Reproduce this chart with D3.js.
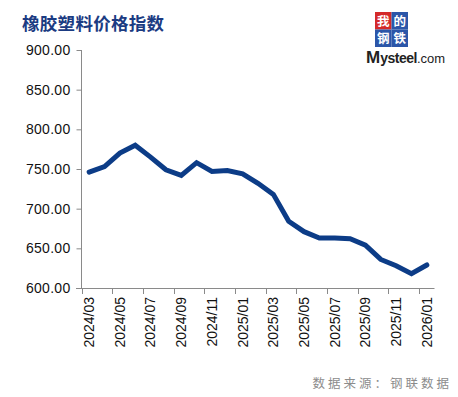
<!DOCTYPE html>
<html><head><meta charset="utf-8">
<script src="https://cdn.jsdelivr.net/npm/d3@7/dist/d3.min.js"></script>
<style>
html,body{margin:0;padding:0;background:#fff;}
svg{display:block;}
</style></head>
<body>
<svg id="c" width="458" height="397"></svg>
<script>
const categories = ["2024/03","2024/04","2024/05","2024/06","2024/07","2024/08","2024/09","2024/10","2024/11","2024/12",
"2025/01","2025/02","2025/03","2025/04","2025/05","2025/06","2025/07","2025/08","2025/09","2025/10","2025/11","2025/12","2026/01"];
const values = [746,753,770,780,765,749,742,758,747,748,744,732,718,684,671,663,663,662,654,636,628,618,629];
const yTicks = [600,650,700,750,800,850,900];
const title = "橡胶塑料价格指数";
const source = "数据来源：钢联数据";

const svg = d3.select("#c");
const x = d3.scaleBand().domain(categories).range([81.5, 434.5]);
const y = d3.scaleLinear().domain([600, 900]).range([288, 50]);
const axisColor = "#8a8a8a";

// title
svg.append("text").attr("x", 22).attr("y", 30)
  .attr("font-family", "'Noto Sans CJK SC'").attr("font-weight", 700)
  .attr("font-size", 17.5).attr("letter-spacing", 0.3).attr("fill", "#1b3b82").text(title);

// y axis
const ya = svg.append("g").attr("transform", "translate(81.5,0)")
  .call(d3.axisLeft(y).tickValues(yTicks).tickSize(5).tickPadding(6).tickFormat(d3.format(".2f")));
ya.selectAll("path,line").attr("stroke", axisColor);
ya.select(".domain").attr("d", "M0," + y(900) + "V" + y(600));
ya.selectAll("text").attr("font-family", "'Liberation Sans', Arial, sans-serif")
  .attr("font-size", 14).attr("letter-spacing", 0.3).attr("fill", "#111");

// x axis
const xg = svg.append("g");
xg.append("line").attr("x1", 76).attr("x2", x.range()[1]).attr("y1", y(600) + 0.5).attr("y2", y(600) + 0.5)
  .attr("stroke", axisColor);
const labeled = categories.filter((d, i) => i % 2 === 0);
xg.selectAll("line.tk").data(labeled).join("line").attr("class", "tk")
  .attr("x1", d => Math.round(x(d)) + 0.5).attr("x2", d => Math.round(x(d)) + 0.5)
  .attr("y1", y(600)).attr("y2", y(600) + 6).attr("stroke", axisColor);
xg.selectAll("text").data(labeled).join("text")
  .attr("transform", d => `translate(${x(d) + x.bandwidth() / 2},297) rotate(-90)`)
  .attr("text-anchor", "end").attr("dy", "0.35em")
  .attr("font-family", "'Liberation Sans', Arial, sans-serif").attr("font-size", 14).attr("fill", "#111")
  .text(d => d);

// line
const line = d3.line().x((d, i) => x(categories[i]) + x.bandwidth() / 2).y(d => y(d));
svg.append("path").datum(values).attr("d", line)
  .attr("fill", "none").attr("stroke", "#0c3c87").attr("stroke-width", 5)
  .attr("stroke-linejoin", "miter").attr("stroke-linecap", "round");

// logo
const logo = svg.append("g");
const sq = [["我", 375, 12, "#d42a2a"], ["的", 391.5, 12, "#2c56a8"], ["钢", 375, 29.5, "#2c56a8"], ["铁", 391.5, 29.5, "#2c56a8"]];
sq.forEach(([t, lx, ly, c]) => {
  logo.append("rect").attr("x", lx).attr("y", ly).attr("width", 16.5).attr("height", 17.5).attr("fill", c);
  logo.append("text").attr("x", lx + 8.25).attr("y", ly + 13.5).attr("text-anchor", "middle")
    .attr("font-family", "'Noto Sans CJK SC'").attr("font-weight", 700).attr("font-size", 12.5).attr("fill", "#fff").text(t);
});
const mt = logo.append("text").attr("x", 366).attr("y", 63)
  .attr("font-family", "'Liberation Sans', Arial, sans-serif").attr("fill", "#222");
mt.append("tspan").attr("font-size", 17).attr("font-weight", 700).text("M");
mt.append("tspan").attr("font-size", 14).attr("font-weight", 700).attr("letter-spacing", -0.5).text("ysteel");
mt.append("tspan").attr("font-size", 13).attr("font-weight", 400).text(".com");

// source
svg.append("text").attr("x", 452).attr("y", 388).attr("text-anchor", "end")
  .attr("font-family", "'Noto Sans CJK SC'").attr("font-size", 12.5).attr("letter-spacing", 3)
  .attr("fill", "#8c8c8c").text(source);
</script>
</body></html>
